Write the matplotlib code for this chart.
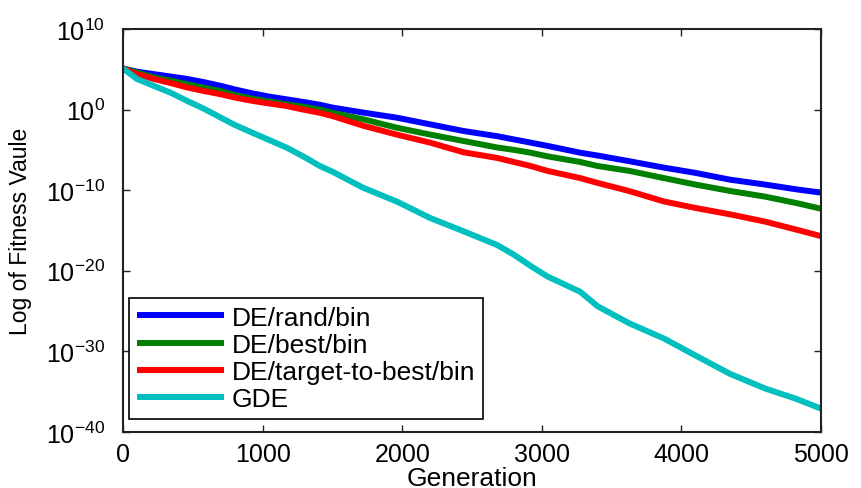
import matplotlib
matplotlib.use("Agg")
import matplotlib.pyplot as plt
import numpy as np

plt.rcParams["font.family"] = ["Liberation Sans", "DejaVu Sans"]
plt.rcParams["mathtext.fontset"] = "custom"
plt.rcParams["mathtext.rm"] = "Liberation Sans"
plt.rcParams["mathtext.default"] = "regular"

# generations and log10 of fitness
generations = [0, 100, 220, 340, 460, 580, 700, 800, 930, 1050, 1170, 1290, 1410, 1500,
               1720, 1960, 2200, 2440, 2680, 2800, 2920, 3040, 3275, 3400, 3625, 3875,
               4100, 4350, 4600, 4825, 5000]
log_rand = [5.1, 4.7, 4.4, 4.1, 3.8, 3.4, 2.94, 2.5, 2.0, 1.6, 1.28, 0.95, 0.6, 0.25,
            -0.37, -1.0, -1.83, -2.66, -3.3, -3.7, -4.1, -4.5, -5.35, -5.7, -6.4, -7.2,
            -7.85, -8.7, -9.3, -9.9, -10.3]
log_best = [5.1, 4.6, 4.0, 3.6, 3.15, 2.7, 2.3, 1.8, 1.35, 1.0, 0.66, 0.35, 0.0, -0.4,
            -1.2, -2.24, -3.1, -3.9, -4.7, -5.0, -5.35, -5.8, -6.5, -7.0, -7.6, -8.5,
            -9.3, -10.1, -10.8, -11.6, -12.3]
log_ttb = [5.1, 4.4, 3.8, 3.3, 2.74, 2.3, 1.9, 1.5, 1.07, 0.75, 0.45, 0.0, -0.4, -0.8,
           -2.0, -3.1, -4.1, -5.3, -6.0, -6.5, -7.0, -7.6, -8.5, -9.1, -10.1, -11.4,
           -12.2, -13.0, -13.9, -14.9, -15.7]
log_gde = [5.1, 3.8, 2.94, 2.1, 1.07, 0.1, -1.0, -1.9, -2.9, -3.8, -4.7, -5.8, -7.0, -7.7,
           -9.7, -11.4, -13.45, -15.1, -16.8, -18.0, -19.4, -20.7, -22.6, -24.4, -26.5, -28.4,
           -30.5, -32.8, -34.6, -35.9, -37.1]

series = [
    ("DE/rand/bin", log_rand, "#0000FF"),
    ("DE/best/bin", log_best, "#008000"),
    ("DE/target-to-best/bin", log_ttb, "#FF0000"),
    ("GDE", log_gde, "#00BFBF"),
]

fig = plt.figure(figsize=(8.61, 4.89), dpi=100)
ax = fig.add_axes([0.1429, 0.1145, 0.8106, 0.8242])

for name, vals, color in series:
    ax.semilogy(generations, 10.0 ** np.array(vals), color=color, lw=4.3,
                label=name, solid_capstyle="butt")

ax.set_xlim(0, 5000)
ax.set_ylim(1e-40, 1e10)
ax.set_xticks([0, 1000, 2000, 3000, 4000, 5000])
ax.set_yticks([10.0 ** k for k in range(-40, 11, 10)])
ax.set_yticklabels([r"$10^{%d}$" % k for k in range(-40, 11, 10)])
ax.yaxis.set_minor_locator(matplotlib.ticker.NullLocator())
ax.tick_params(direction="in", length=5, width=1, top=True, right=True,
               labelsize=18, colors="#222222", labelcolor="black")
ax.tick_params(axis="x", pad=7)
ax.tick_params(axis="y", pad=13)
for sp in ax.spines.values():
    sp.set_linewidth(1.5)
    sp.set_color("#222222")

ax.set_xlabel("Generation", fontsize=19, labelpad=0)
ax.set_ylabel("Log of Fitness Vaule", fontsize=16.5, labelpad=10)

leg = ax.legend(loc="lower left", bbox_to_anchor=(0.0086, 0.032), borderaxespad=0,
                fontsize=19, fancybox=False, frameon=True, framealpha=1,
                handlelength=3.3, handletextpad=0.3, labelspacing=0.12, borderpad=0.3)
leg.get_frame().set_edgecolor("black")
leg.get_frame().set_linewidth(1.2)

fig.savefig("out.png", dpi=100)
